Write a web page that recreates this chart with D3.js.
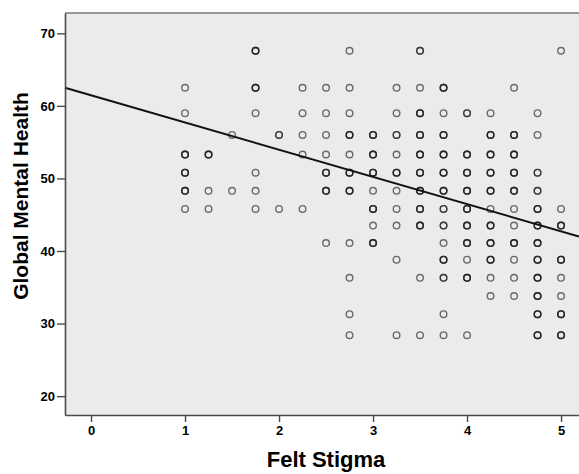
<!DOCTYPE html>
<html>
<head>
<meta charset="utf-8">
<script src="https://cdn.jsdelivr.net/npm/d3@7"></script>
<style>
    body { margin: 0; background: #fff; }
    text { font-family: Arial, "Liberation Sans", sans-serif; font-weight: bold; }
</style>
</head>
<body>
<svg id="Scatter"></svg>
<script>
'use strict';

// Felt Stigma (x) -> list of [Global Mental Health, overlapping cases]
let stigmaLevels = [1, 1.25, 1.5, 1.75, 2, 2.25, 2.5, 2.75, 3, 3.25, 3.5, 3.75, 4, 4.25, 4.5, 4.75, 5];
let gmhByStigma = [
    [[62.5,1],[59,1],[53.3,3],[50.8,3],[48.3,3],[45.8,1]],
    [[53.3,3],[48.3,1],[45.8,1]],
    [[56,1],[48.3,1]],
    [[67.6,3],[62.5,3],[59,1],[50.8,1],[48.3,1],[45.8,1]],
    [[56,2],[45.8,1]],
    [[62.5,1],[59,1],[56,1],[53.3,1],[45.8,1]],
    [[62.5,1],[59,1],[56,1],[53.3,1],[50.8,3],[48.3,3],[41.1,1]],
    [[67.6,1],[62.5,1],[59,1],[56,3],[53.3,1],[50.8,3],[48.3,3],[41.1,1],[36.3,1],[31.3,1],[28.4,1]],
    [[56,3],[53.3,3],[50.8,3],[48.3,1],[45.8,3],[43.5,1],[41.1,3]],
    [[62.5,1],[59,1],[56,2],[53.3,1],[50.8,3],[48.3,1],[45.8,1],[43.5,1],[38.8,1],[28.4,1]],
    [[67.6,2],[62.5,1],[59,3],[56,3],[53.3,3],[50.8,3],[48.3,3],[45.8,3],[43.5,3],[36.3,1],[28.4,1]],
    [[62.5,3],[59,1],[56,3],[53.3,3],[50.8,3],[48.3,3],[45.8,2],[43.5,2],[41.1,1],[38.8,3],[36.3,2],[31.3,1],[28.4,1]],
    [[59,2],[53.3,3],[50.8,3],[48.3,3],[45.8,3],[43.5,3],[41.1,3],[38.8,1],[36.3,3],[28.4,1]],
    [[59,1],[56,3],[53.3,3],[50.8,3],[48.3,3],[45.8,1],[43.5,3],[41.1,3],[38.8,3],[36.3,1],[33.8,1]],
    [[62.5,1],[56,3],[53.3,3],[50.8,3],[48.3,3],[45.8,1],[43.5,1],[41.1,3],[38.8,1],[36.3,1],[33.8,1]],
    [[59,1],[56,1],[50.8,2],[48.3,2],[45.8,3],[43.5,3],[41.1,3],[38.8,3],[36.3,3],[33.8,3],[31.3,3],[28.4,3]],
    [[67.6,1],[45.8,1],[43.5,3],[38.8,3],[36.3,1],[33.8,1],[31.3,3],[28.4,3]]
];

let xTicks = [0, 1, 2, 3, 4, 5];
let yTicks = [20, 30, 40, 50, 60, 70];

// linear fit line
let fitIntercept = 61.46;
let fitSlope = -3.75;

function getChartConfig() {
    let margin = { top: 13, right: 0, bottom: 59, left: 65 },
        width = 579 - margin.left - margin.right,
        height = 474 - margin.top - margin.bottom;

    let svg = d3.select("#Scatter")
        .attr("width", 579)
        .attr("height", 474);

    let container = svg.append("g")
        .attr("transform", "translate(" + margin.left + "," + margin.top + ")");

    return { width, height, container, margin, svg }
}

function getScales(config) {
    let { width, height } = config;
    let xScale = d3.scaleLinear()
        .domain([-0.277, 5.191])
        .range([0, width]);
    let yScale = d3.scaleLinear()
        .domain([17.4, 72.8])
        .range([height, 0]);
    return { xScale, yScale }
}

function drawBackground(config) {
    let { container, width, height } = config;
    container.append("rect")
        .attr("width", width)
        .attr("height", height)
        .attr("fill", "#ebebeb");
    container.append("line")
        .attr("x1", 0).attr("x2", width)
        .attr("y1", 0).attr("y2", 0)
        .style("stroke", "#7a7a7a")
        .style("stroke-width", 1.5);
}

function drawAxes(config, scales) {
    let { container, width, height, margin } = config;
    let { xScale, yScale } = scales;

    let xAxis = d3.axisBottom(xScale)
        .tickValues(xTicks)
        .tickFormat(d3.format("d"))
        .tickSize(7)
        .tickSizeOuter(0)
        .tickPadding(4);

    let gx = container.append("g")
        .attr("transform", "translate(0," + height + ")")
        .call(xAxis);
    gx.selectAll("text").style("font-size", "13px").attr("fill", "#000");

    let yAxis = d3.axisLeft(yScale)
        .tickValues(yTicks)
        .tickFormat(d3.format("d"))
        .tickSize(8)
        .tickSizeOuter(0)
        .tickPadding(2);

    let gy = container.append("g").call(yAxis);
    gy.selectAll("text").style("font-size", "13px").attr("fill", "#000");

    [gx, gy].forEach(g => {
        g.select(".domain").style("stroke", "#4a4a4a").style("stroke-width", 1.6);
        g.selectAll(".tick line").style("stroke", "#4a4a4a").style("stroke-width", 1.4);
    });

    container.append("text")
        .attr("x", 326 - margin.left)
        .attr("y", 467 - margin.top)
        .style("text-anchor", "middle")
        .style("font-size", "22px")
        .text("Felt Stigma");

    container.append("text")
        .attr("transform", "translate(" + (28 - margin.left) + "," + (196 - margin.top) + ") rotate(-90)")
        .style("text-anchor", "middle")
        .style("font-size", "21px")
        .text("Global Mental Health");
}

function drawPoints(config, scales) {
    let { container } = config;
    let { xScale, yScale } = scales;

    let cases = [];
    stigmaLevels.forEach((s, i) => {
        gmhByStigma[i].forEach(([g, n]) => {
            for (let k = 0; k < n; k++) cases.push({ stigma: s, gmh: g });
        })
    });

    container.append("g")
        .selectAll("circle")
        .data(cases)
        .enter()
        .append("circle")
        .attr("cx", d => xScale(d.stigma))
        .attr("cy", d => yScale(d.gmh))
        .attr("r", 3.3)
        .attr("fill", "none")
        .style("stroke", "#1a1a1a")
        .style("stroke-opacity", 0.62)
        .style("stroke-width", 1.4);
}

function drawFitLine(config, scales) {
    let { container } = config;
    let { xScale, yScale } = scales;
    let [x0, x1] = xScale.domain();

    container.append("line")
        .attr("x1", xScale(x0))
        .attr("y1", yScale(fitIntercept + fitSlope * x0))
        .attr("x2", xScale(x1))
        .attr("y2", yScale(fitIntercept + fitSlope * x1))
        .style("stroke", "#111")
        .style("stroke-width", 2);
}

function drawChart() {
    let config = getChartConfig();
    let scales = getScales(config);
    drawBackground(config);
    drawPoints(config, scales);
    drawFitLine(config, scales);
    drawAxes(config, scales);
}

drawChart();
</script>
</body>
</html>
